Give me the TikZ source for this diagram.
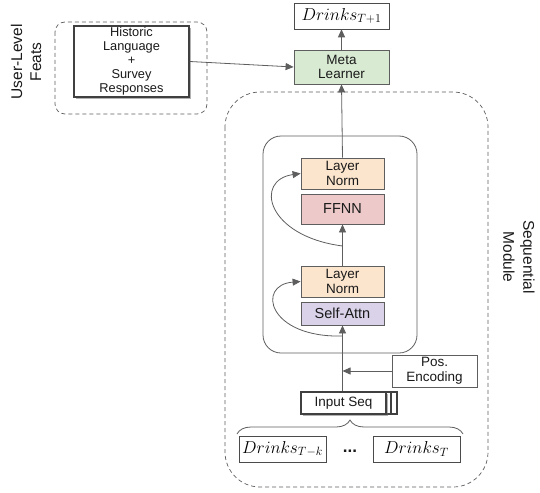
\documentclass[tikz,border=0pt]{standalone}
\usepackage[no-math]{fontspec}
\setmainfont{Liberation Sans}
\usetikzlibrary{arrows.meta,shadows,decorations.pathreplacing}
\definecolor{edge}{HTML}{5E5E5E}
\definecolor{metagreen}{HTML}{D9EAD3}
\definecolor{lnorm}{HTML}{FCE5CD}
\definecolor{ffnnc}{HTML}{EDC9C9}
\definecolor{attnc}{HTML}{D9D2E9}
\definecolor{txt}{HTML}{1A1A1A}
\begin{document}
\begin{tikzpicture}[x=1pt,y=-1pt,
  box/.style={draw=edge, line width=0.8pt, inner sep=0pt, align=center, text=txt,
    font=\fontsize{13.5}{14.5}\selectfont},
  mathbox/.style={draw=edge!80!black, line width=0.6pt, inner sep=0pt, fill=white,
    font=\fontsize{17.5}{19}\selectfont},
  arr/.style={draw=edge, line width=0.8pt, -{Triangle[length=8pt,width=7pt]}},
  dashbox/.style={draw=edge, line width=0.7pt, dash pattern=on 4pt off 3pt},
  lbl/.style={align=center, text=txt, font=\fontsize{15.5}{19}\selectfont},
  shad/.style={drop shadow={shadow xshift=1.8pt, shadow yshift=-1.8pt, opacity=0.5, fill=black!60}},
]
\useasboundingbox (0,0) rectangle (540,492);

% dashed groups
\draw[dashbox, rounded corners=10pt] (55,22) rectangle (207,114);
\draw[dashbox, rounded corners=35pt] (225,92) rectangle (488,487);
\draw[edge, line width=0.8pt, rounded corners=18pt] (263,136) rectangle (417,353);

\node[lbl, rotate=90] (ulabel) at (26,62) {User-Level\\Feats};
\node[lbl, rotate=-90, font=\fontsize{15.5}{20}\selectfont] (slabel) at (519,257) {Sequential\\Module};

% user-level features
\node[box, draw=black!75, line width=1.6pt, fill=white, minimum width=115pt, minimum height=71pt,
  font=\fontsize{12.8}{14}\selectfont, shad] (hist) at (131.5,61.5)
  {Historic\\Language\\+\\Survey\\Responses};

% output and meta learner
\node[mathbox, minimum width=95pt, minimum height=26pt] (out) at (341.5,16) {$Drinks_{T+1}$};
\node[box, fill=metagreen, minimum width=95pt, minimum height=34pt] (meta) at (341.5,67) {Meta\\Learner};

% transformer block
\node[box, fill=lnorm, minimum width=83pt, minimum height=31pt] (ln2) at (342.5,173.5) {Layer\\Norm};
\node[box, fill=ffnnc, minimum width=83pt, minimum height=30pt, font=\fontsize{14.5}{16}\selectfont] (ffnn) at (342.5,209) {FFNN};
\node[box, fill=lnorm, minimum width=83pt, minimum height=31pt] (ln1) at (342.5,281.5) {Layer\\Norm};
\node[box, fill=attnc, minimum width=83pt, minimum height=23pt, font=\fontsize{14.5}{16}\selectfont] (sa) at (342.5,313.5) {Self-Attn};

% inputs
\node[box, fill=white, minimum width=85pt, minimum height=32pt] (pos) at (434.5,371) {Pos.\\Encoding};
\draw[black!75, line width=1.2pt, fill=white] (301,392) rectangle (397,414);
\draw[black!75, line width=1.2pt, fill=white] (301,392) rectangle (391,414);
\node[box, draw=black!75, line width=1.4pt, fill=white, minimum width=85pt, minimum height=22pt,
  shad] (inp) at (343.5,403) {Input Seq};

\node[mathbox, minimum width=87pt, minimum height=26pt] (dtk) at (282.5,449) {$Drinks_{T-k}$};
\node[mathbox, minimum width=87pt, minimum height=26pt] (dt) at (416.5,449) {$Drinks_{T}$};
\node[text=txt, font=\fontsize{17}{19}\selectfont\bfseries] (dots) at (350,451) {...};

\coordinate (bl) at (237,434);
\coordinate (brr) at (463,434);
\draw[edge, line width=0.8pt, decorate, decoration={brace, amplitude=14pt}] (bl) -- (brr);

% connectors
\draw[arr] (hist.east) -- (meta.west);
\draw[arr] (meta.north) -- (out.south);
\draw[arr] (ln2.north) -- (meta.south);
\draw[arr] (ln1.north) -- (ffnn.south);
\draw[arr] (inp.north -| sa.south) -- (sa.south);
\draw[arr] (pos.west) -- (pos.west -| sa.south);

\coordinate (r1) at (342.5,336);
\coordinate (r2) at (342.5,246);
\draw[arr] (r1) .. controls (268,338) and (256,285) .. (ln1.west);
\draw[arr] (r2) .. controls (266,236) and (254,180) .. (ln2.west);
\end{tikzpicture}
\end{document}
